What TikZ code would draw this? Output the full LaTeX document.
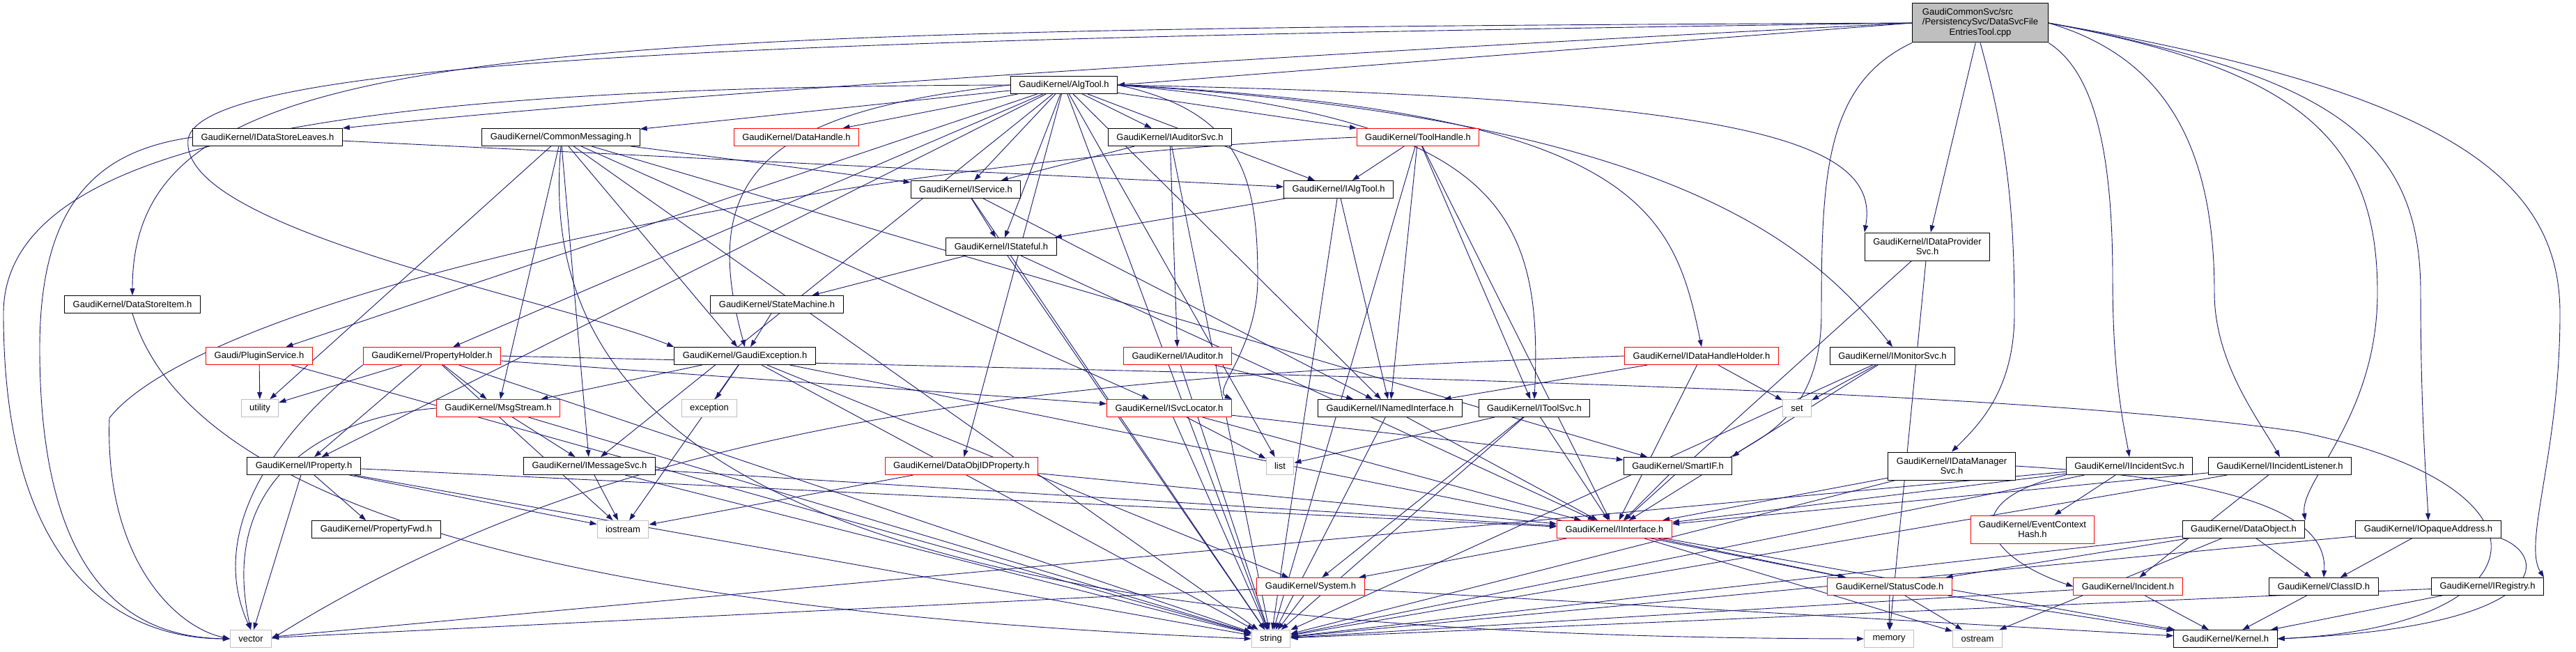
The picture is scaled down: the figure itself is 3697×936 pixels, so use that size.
\documentclass[tikz,border=0pt]{standalone}
\usepackage{fontspec}
\setmainfont{Liberation Sans}
\usetikzlibrary{arrows.meta,backgrounds}
\definecolor{edgeblue}{HTML}{191970}
\definecolor{leafgray}{HTML}{BFBFBF}
\begin{document}
\begin{tikzpicture}[x=1pt,y=-1pt,
    box/.style={draw=black, fill=white, line width=1pt, inner xsep=12pt, inner ysep=0pt,
        minimum height=25pt, font=\fontsize{13}{14.5}\selectfont},
    redbox/.style={box, draw=red},
    leaf/.style={box, draw=leafgray},
    twoline/.style={align=center, minimum height=40pt},
    edge/.style={draw=edgeblue, line width=0.9pt, -{Triangle[length=10pt,width=7pt]}}]
    \useasboundingbox (0,0) rectangle (3697,936);

    % 源文件
    \node[box, fill=leafgray, minimum width=195pt, minimum height=56pt] (main) at (2842,33)
        {\begin{tabular}{@{}l@{}}GaudiCommonSvc/src\\/PersistencySvc/DataSvcFile\\\multicolumn{1}{@{}c@{}}{EntriesTool.cpp}\end{tabular}};

    % 第1-4层
    \node[box] (algtool) at (1527,122) {GaudiKernel/AlgTool.h};
    \node[box] (leaves) at (384,197) {GaudiKernel/IDataStoreLeaves.h};
    \node[box] (commsg) at (805,197) {GaudiKernel/CommonMessaging.h};
    \node[redbox] (dhandle) at (1143,197) {GaudiKernel/DataHandle.h};
    \node[box] (audsvc) at (1679,197) {GaudiKernel/IAuditorSvc.h};
    \node[redbox] (toolh) at (2035,197) {GaudiKernel/ToolHandle.h};
    \node[box] (isvc) at (1386,272) {GaudiKernel/IService.h};
    \node[box] (ialgtool) at (1921,272) {GaudiKernel/IAlgTool.h};
    \node[box] (istateful) at (1437,354) {GaudiKernel/IStateful.h};
    \node[box, twoline] (dpsvc) at (2766,354) {GaudiKernel/IDataProvider\\Svc.h};

    % 第5-7层
    \node[box] (dsitem) at (190,437) {GaudiKernel/DataStoreItem.h};
    \node[box] (statem) at (1115,437) {GaudiKernel/StateMachine.h};
    \node[redbox] (plugin) at (372,511) {Gaudi/PluginService.h};
    \node[redbox] (propholder) at (620,511) {GaudiKernel/PropertyHolder.h};
    \node[box] (gexc) at (1069,511) {GaudiKernel/GaudiException.h};
    \node[redbox] (iauditor) at (1690,511) {GaudiKernel/IAuditor.h};
    \node[redbox] (dhholder) at (2442,511) {GaudiKernel/IDataHandleHolder.h};
    \node[box] (monsvc) at (2716,511) {GaudiKernel/IMonitorSvc.h};
    \node[leaf] (utility) at (373,586) {utility};
    \node[redbox] (msgstream) at (715,586) {GaudiKernel/MsgStream.h};
    \node[leaf] (exception) at (1018,586) {exception};
    \node[redbox] (svcloc) at (1678,586) {GaudiKernel/ISvcLocator.h};
    \node[box] (named) at (1995,586) {GaudiKernel/INamedInterface.h};
    \node[box] (toolsvc) at (2202,586) {GaudiKernel/IToolSvc.h};
    \node[leaf] (set) at (2579,586) {set};

    % 第8-9层
    \node[box] (iprop) at (436,669) {GaudiKernel/IProperty.h};
    \node[box] (msgsvc) at (846,669) {GaudiKernel/IMessageSvc.h};
    \node[redbox] (dojprop) at (1380,669) {GaudiKernel/DataObjIDProperty.h};
    \node[leaf] (list) at (1837,669) {list};
    \node[box] (smartif) at (2408,669) {GaudiKernel/SmartIF.h};
    \node[box, twoline] (dmsvc) at (2801,669) {GaudiKernel/IDataManager\\Svc.h};
    \node[box] (incsvc) at (3056,669) {GaudiKernel/IIncidentSvc.h};
    \node[box] (inclst) at (3272,669) {GaudiKernel/IIncidentListener.h};
    \node[box] (propfwd) at (540,760) {GaudiKernel/PropertyFwd.h};
    \node[leaf] (iostream) at (894,760) {iostream};
    \node[redbox] (iiface) at (2317,760) {GaudiKernel/IInterface.h};
    \node[redbox, twoline] (evhash) at (2917,760) {GaudiKernel/EventContext\\Hash.h};
    \node[box] (dataobj) at (3220,760) {GaudiKernel/DataObject.h};
    \node[box] (opaque) at (3485,760) {GaudiKernel/IOpaqueAddress.h};

    % 第10-11层
    \node[redbox] (system) at (1881,842) {GaudiKernel/System.h};
    \node[redbox] (status) at (2712,842) {GaudiKernel/StatusCode.h};
    \node[redbox] (incident) at (3054,842) {GaudiKernel/Incident.h};
    \node[box] (classid) at (3335,842) {GaudiKernel/ClassID.h};
    \node[box] (registry) at (3570,842) {GaudiKernel/IRegistry.h};
    \node[leaf] (vector) at (360,917) {vector};
    \node[leaf] (string) at (1824,917) {string};
    \node[leaf] (memory) at (2711,917) {memory};
    \node[leaf] (ostream) at (2838,917) {ostream};
    \node[box] (kernel) at (3194,917) {GaudiKernel/Kernel.h};

    \begin{scope}[on background layer]
    \fill[white] (0,0) rectangle (3697,936);

    % 直线连接
    \foreach \a/\b in {main/dpsvc,
        algtool/commsg, algtool/dhandle, algtool/audsvc, algtool/toolh, algtool/isvc,
        algtool/ialgtool, algtool/istateful, algtool/plugin, algtool/propholder, algtool/iprop,
        algtool/msgsvc, algtool/dojprop, algtool/list, algtool/string, algtool/named,
        leaves/ialgtool,
        commsg/isvc, commsg/gexc, commsg/msgsvc, commsg/msgstream, commsg/svcloc,
        commsg/utility, commsg/smartif, commsg/string,
        audsvc/isvc, audsvc/iauditor, audsvc/string,
        toolh/ialgtool, toolh/named, toolh/toolsvc, toolh/iiface, toolh/string,
        isvc/istateful, isvc/named, isvc/string,
        ialgtool/istateful, ialgtool/named, ialgtool/string,
        istateful/statem, istateful/string, istateful/iiface,
        dpsvc/iiface, dpsvc/memory, statem/gexc,
        plugin/utility, plugin/string,
        propholder/utility, propholder/msgstream, propholder/iprop, propholder/svcloc,
        propholder/string, propholder/iostream,
        gexc/exception, gexc/msgstream, gexc/iostream, gexc/string, gexc/system, gexc/status,
        iauditor/named, iauditor/string,
        dhholder/named, dhholder/set, dhholder/iiface,
        monsvc/set, monsvc/iiface, monsvc/string,
        msgstream/msgsvc, msgstream/string,
        svcloc/list, svcloc/smartif, svcloc/iiface, svcloc/string,
        named/iiface, named/string,
        toolsvc/list, toolsvc/system, toolsvc/iiface, toolsvc/string,
        iprop/propfwd, iprop/iostream, iprop/iiface, iprop/string, iprop/vector,
        msgsvc/iostream, msgsvc/iiface, msgsvc/string,
        dojprop/iostream, dojprop/iiface, smartif/iiface,
        dmsvc/iiface, dmsvc/string,
        incsvc/evhash, incsvc/iiface, incsvc/string, incsvc/vector,
        inclst/iiface, inclst/incident, inclst/string,
        dataobj/classid, dataobj/status, dataobj/ostream, dataobj/string,
        opaque/classid, opaque/string,
        iiface/system, iiface/status, iiface/kernel, iiface/ostream,
        system/string, system/kernel, system/vector,
        status/memory, status/ostream, status/kernel,
        incident/kernel, incident/string, classid/kernel,
        registry/kernel, registry/string}
        \draw[edge] (\a) -- (\b);

    % 源文件出发的曲线
    \draw[edge] (main.west) -- (algtool.east);
    \draw[edge] (main.west) .. controls (2000,70) and (1000,130) .. (leaves.north east);
    \draw[edge] (main.west) .. controls (700,42) and (190,60) .. (dsitem.north);
    \draw[edge] (main.west) .. controls (1200,55) and (290,80) .. (270,200)
        .. controls (255,330) and (800,430) .. (gexc.north west);
    \draw[edge] (main.south west) .. controls (2620,120) and (2614,250) .. (2614,450)
        .. controls (2614,600) and (2520,630) .. (smartif.north east);
    \draw[edge] (main.south) .. controls (2880,200) and (2891,300) .. (2891,450)
        .. controls (2891,560) and (2840,610) .. (dmsvc.north);
    \draw[edge] (main.south east) .. controls (3000,100) and (3032,200) .. (3032,400)
        .. controls (3032,550) and (3050,620) .. (incsvc.north);
    \draw[edge] (main.east) .. controls (3100,80) and (3178,200) .. (3178,420)
        .. controls (3178,520) and (3240,600) .. (inclst.north);
    \draw[edge] (main.east) .. controls (3300,100) and (3412,200) .. (3412,420)
        .. controls (3412,600) and (3300,690) .. (dataobj.north east);
    \draw[edge] (main.east) .. controls (3350,110) and (3474,200) .. (3474,420)
        .. controls (3474,600) and (3483,700) .. (opaque.north);
    \draw[edge] (main.east) .. controls (3500,130) and (3674,250) .. (3674,450)
        .. controls (3674,650) and (3620,780) .. (registry.north east);

    % AlgTool 的曲线
    \draw[edge] (algtool.west) .. controls (600,125) and (5,180) .. (5,450)
        .. controls (5,850) and (200,917) .. (vector.west);
    \draw[edge] (algtool.east) .. controls (2500,140) and (2700,200) .. (dpsvc.north west);
    \draw[edge] (algtool.east) .. controls (2350,160) and (2402,300) .. (dhholder.north);
    \draw[edge] (algtool.east) .. controls (2400,170) and (2600,350) .. (monsvc.north);
    \draw[edge] (algtool.east) .. controls (1780,160) and (1805,250) .. (1805,400)
        .. controls (1805,500) and (1740,560) .. (svcloc.north east);
    \draw[edge] (algtool.east) .. controls (2150,170) and (2215,300) .. (toolsvc.north);
    \draw[edge] (algtool.west) .. controls (1100,160) and (1000,250) .. (gexc.north);

    % 其他曲线
    \draw[edge] (leaves.west) .. controls (150,215) and (57,280) .. (57,500)
        .. controls (57,850) and (200,915) .. (vector.west);
    \draw[edge] (toolh.west) .. controls (1200,230) and (300,420) .. (157,600)
        .. controls (150,800) and (250,900) .. (vector.west);
    \draw[edge] (propholder.south west) .. controls (420,600) and (290,750) .. (vector.north);
    \draw[edge] (msgstream.west) .. controls (450,600) and (315,700) .. (vector.north);
    \draw[edge] (dhholder.west) .. controls (1500,540) and (900,600) .. (vector.east);
    \draw[edge] (commsg.south) .. controls (760,700) and (1300,915) .. (memory.west);
    \draw[edge] (dsitem.south) .. controls (280,750) and (900,880) .. (string.west);
    \draw[edge] (propholder.east) .. controls (2000,540) and (2900,560) .. (3300,620)
        .. controls (3690,700) and (3650,900) .. (kernel.east);
    \draw[edge] (dmsvc.east) .. controls (3250,690) and (3340,750) .. (classid.north);
    \draw[edge] (incsvc.south west) .. controls (2800,720) and (2850,800) .. (incident.west);
    \draw[edge] (opaque.south east) .. controls (3660,800) and (3660,900) .. (kernel.east);
    \end{scope}
\end{tikzpicture}
\end{document}
